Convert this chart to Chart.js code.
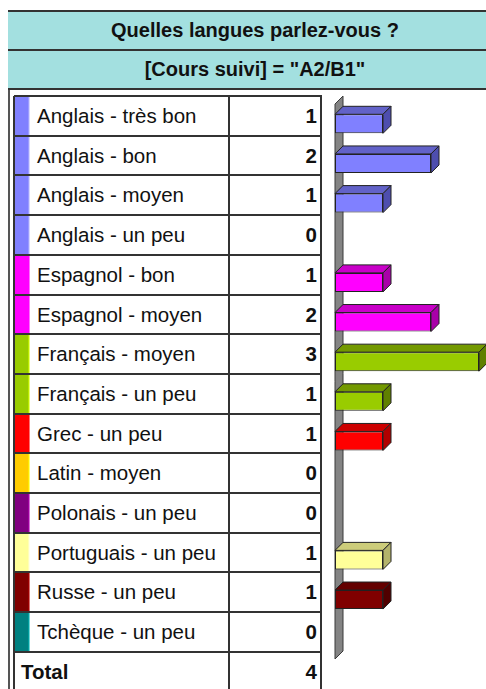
<!DOCTYPE html>
<html>
<head>
<meta charset="utf-8">
<script src="https://cdn.jsdelivr.net/npm/chart.js@4.4.1/dist/chart.umd.min.js"></script>
<style>
body { margin: 0; width: 486px; height: 689px; overflow: hidden; background: #fff; position: relative;
       font-family: "Liberation Sans", Arial, sans-serif; color: #111; }
.frame { position: absolute; left: 8px; top: 10px; width: 2px; height: 700px; background: #555; }
.hdr { position: absolute; left: 8px; width: 494px; background: #a3e0e0; border-top: 2px solid #333;
       font-weight: bold; font-size: 20px; text-align: center; box-sizing: border-box; }
.hline { position: absolute; left: 14px; width: 308px; height: 2px; background: #333; }
.vline { position: absolute; top: 96px; width: 2px; height: 600px; background: #333; }
.cell { position: absolute; font-size: 20.5px; white-space: nowrap; box-sizing: border-box; }
#wrap { position: absolute; left: 320px; top: 90px; width: 166px; height: 599px; }
</style>
</head>
<body>
<div class="frame"></div>
<div class="hdr" style="top:10px;height:39px;line-height:37px;">Quelles langues parlez-vous ?</div>
<div class="hdr" style="top:49px;height:41px;line-height:37px;border-bottom:2px solid #333;">[Cours suivi] = "A2/B1"</div>
<div id="table"></div>
<div id="wrap"><canvas id="myChart" width="166" height="599"></canvas></div>
<script>
const categories = [
    'Anglais - très bon', 'Anglais - bon', 'Anglais - moyen', 'Anglais - un peu',
    'Espagnol - bon', 'Espagnol - moyen', 'Français - moyen', 'Français - un peu',
    'Grec - un peu', 'Latin - moyen', 'Polonais - un peu', 'Portuguais - un peu',
    'Russe - un peu', 'Tchèque - un peu'
];
const counts = [1, 2, 1, 0, 1, 2, 3, 1, 1, 0, 0, 1, 1, 0];
const totalLabel = 'Total';
const total = 4;

// front / top / side colours per language
const front = ['#8080ff', '#8080ff', '#8080ff', '#8080ff', '#ff00ff', '#ff00ff', '#99cc00', '#99cc00',
               '#ff0000', '#ffcc00', '#800080', '#ffff99', '#800000', '#008080'];
const topFace = ['#6262c8', '#6262c8', '#6262c8', '#6262c8', '#c800c8', '#c800c8', '#739900', '#739900',
                 '#cc0000', '#cca300', '#600060', '#cccc7a', '#640000', '#006060'];
const sideFace = ['#4e4eae', '#4e4eae', '#4e4eae', '#4e4eae', '#a800a8', '#a800a8', '#5f8000', '#5f8000',
                  '#b00000', '#b38f00', '#500050', '#b3b36b', '#500000', '#005050'];

// table
const rowTop = 96, rowH = 39.7;
const table = document.getElementById('table');
let html = '';
categories.forEach((c, i) => {
    const y = rowTop + i * rowH;
    html += `<div style="position:absolute;left:15px;top:${y}px;width:14px;height:${rowH}px;background:${front[i]}"></div>`;
    html += `<div style="position:absolute;left:28px;top:${y}px;width:2px;height:${rowH}px;background:${front[i]};opacity:.55;filter:brightness(1.4)"></div>`;
    html += `<div class="cell" style="left:37px;top:${y}px;height:${rowH}px;line-height:${rowH + 1}px">${c}</div>`;
    html += `<div class="cell" style="left:229px;width:88px;text-align:right;font-weight:bold;top:${y}px;height:${rowH}px;line-height:${rowH + 1}px">${counts[i]}</div>`;
});
const ty = rowTop + categories.length * rowH;
html += `<div class="cell" style="left:21px;font-weight:bold;top:${ty}px;height:${rowH}px;line-height:${rowH + 1}px">${totalLabel}</div>`;
html += `<div class="cell" style="left:229px;width:88px;text-align:right;font-weight:bold;top:${ty}px;height:${rowH}px;line-height:${rowH + 1}px">${total}</div>`;
for (let i = 0; i <= categories.length + 1; i++) {
    html += `<div class="hline" style="top:${Math.round(rowTop + i * rowH) - 1}px"></div>`;
}
[14, 229, 321].forEach(x => { html += `<div class="vline" style="left:${x - 1}px"></div>`; });
table.innerHTML = html;

// 3d wall + bar faces
const depth = 8;
const bars3d = {
    id: 'bars3d',
    beforeDatasetsDraw(chart) {
        const c = chart.ctx, a = chart.chartArea;
        const x0 = chart.scales.x.getPixelForValue(0);
        c.save();
        c.beginPath();
        c.moveTo(x0, a.top);
        c.lineTo(x0 + depth, a.top - depth);
        c.lineTo(x0 + depth, a.bottom - depth);
        c.lineTo(x0, a.bottom);
        c.closePath();
        c.fillStyle = '#848484';
        c.fill();
        c.strokeStyle = '#3a3a3a';
        c.lineWidth = 1;
        c.stroke();
        c.restore();
    },
    afterDatasetsDraw(chart) {
        const c = chart.ctx;
        const meta = chart.getDatasetMeta(0);
        c.save();
        c.lineWidth = 1;
        c.strokeStyle = '#222';
        meta.data.forEach((bar, i) => {
            if (!counts[i]) return;
            const { x, y, base, height } = bar.getProps(['x', 'y', 'base', 'height'], true);
            const t = y - height / 2, b = y + height / 2;
            c.beginPath();
            c.moveTo(base, t);
            c.lineTo(base + depth, t - depth);
            c.lineTo(x + depth, t - depth);
            c.lineTo(x, t);
            c.closePath();
            c.fillStyle = topFace[i];
            c.fill();
            c.stroke();
            c.beginPath();
            c.moveTo(x, t);
            c.lineTo(x + depth, t - depth);
            c.lineTo(x + depth, b - depth);
            c.lineTo(x, b);
            c.closePath();
            c.fillStyle = sideFace[i];
            c.fill();
            c.stroke();
        });
        c.restore();
    }
};

const ctx = document.getElementById('myChart').getContext('2d');
const myChart = new Chart(ctx, {
    type: 'bar',
    data: {
        labels: categories,
        datasets: [{
            data: counts,
            backgroundColor: front,
            borderColor: '#222',
            borderWidth: c => (c.raw ? 1 : 0),
            borderSkipped: false,
            barPercentage: 0.48,
            categoryPercentage: 1
        }]
    },
    options: {
        indexAxis: 'y',
        responsive: false,
        animation: false,
        layout: { padding: { left: 15, right: 7, top: 14, bottom: 30 } },
        plugins: { legend: { display: false }, tooltip: { enabled: false } },
        scales: {
            x: { display: false, min: 0, max: 3 },
            y: { display: false }
        }
    },
    plugins: [bars3d]
});
</script>
</body>
</html>
